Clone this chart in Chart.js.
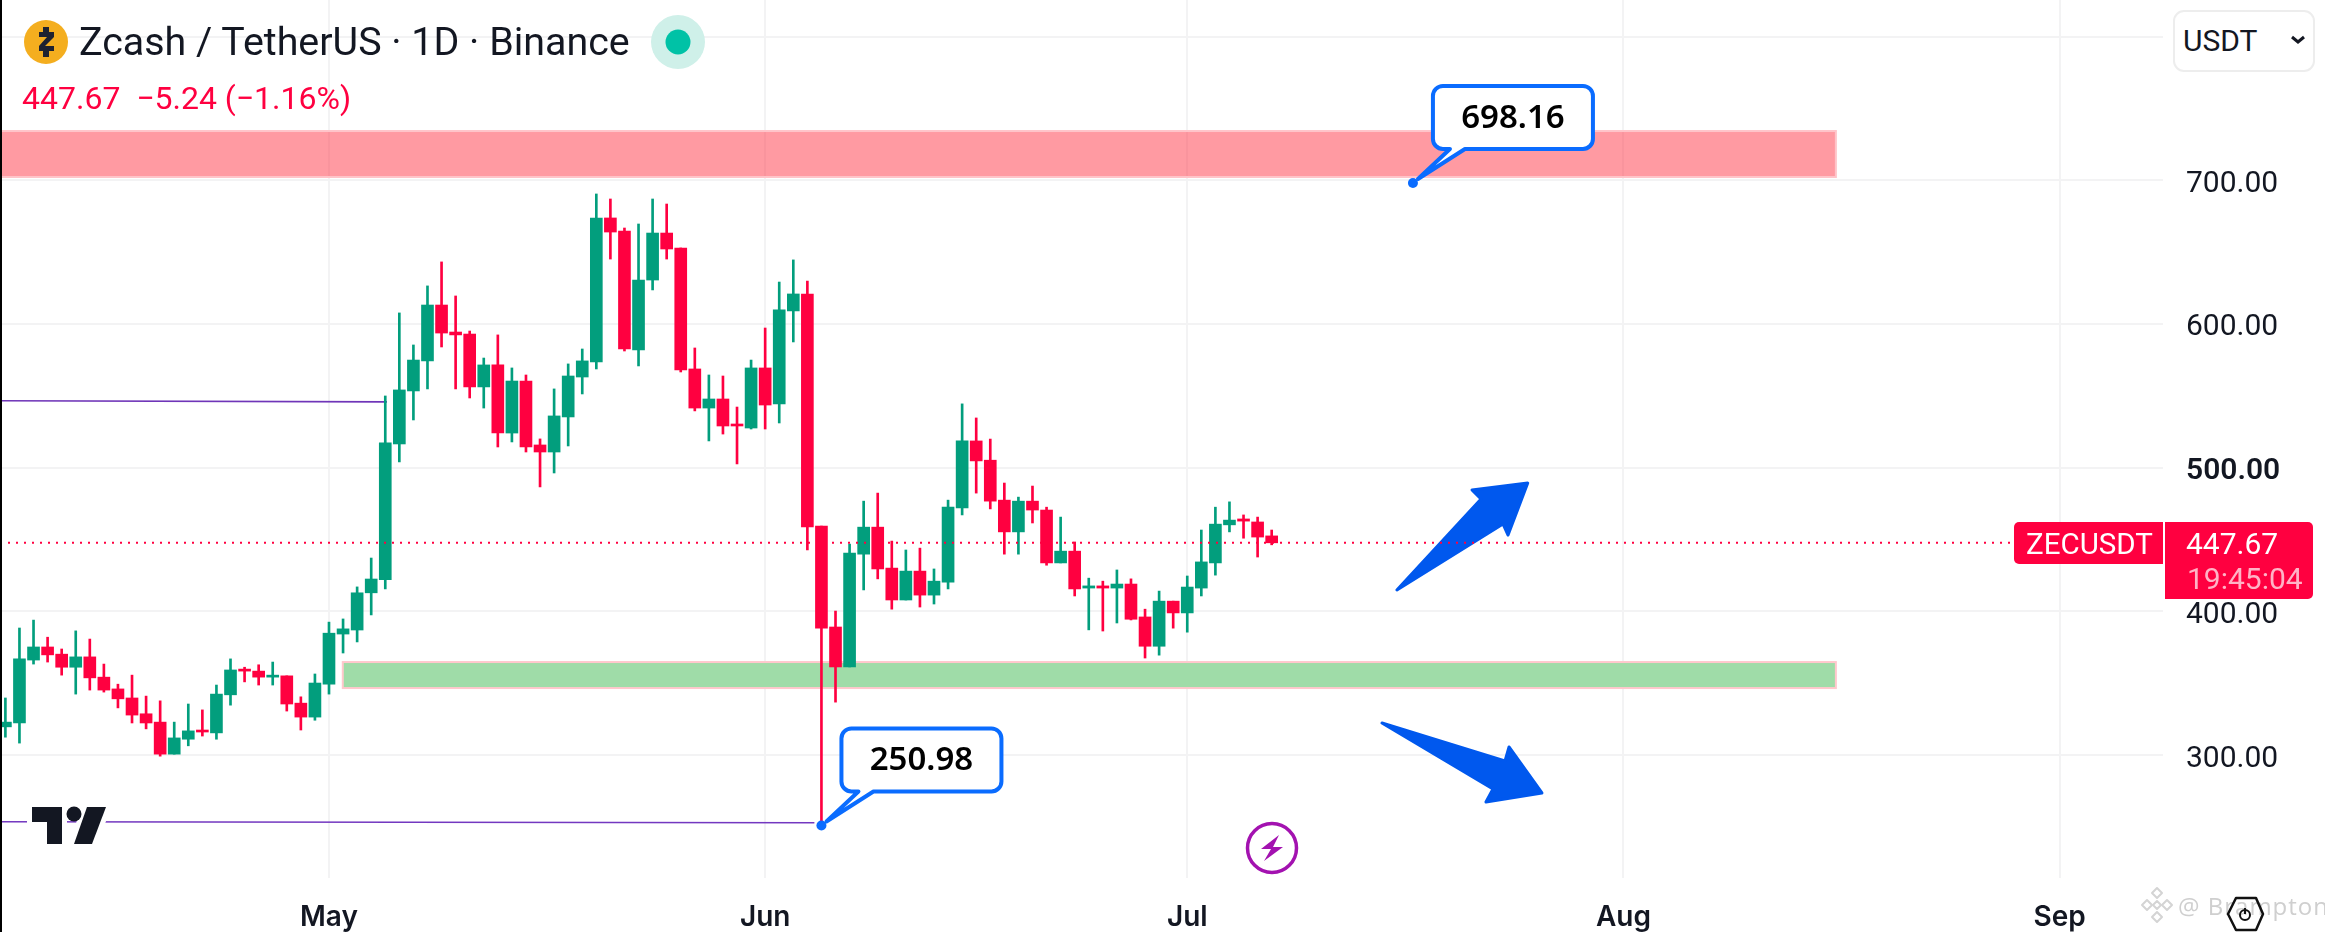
<!DOCTYPE html>
<html>
<head>
<meta charset="utf-8">
<title>ZECUSDT</title>
<script src="https://cdn.jsdelivr.net/npm/chart.js@4"></script>
<style>
  html, body { margin: 0; padding: 0; background: #fff; overflow: hidden; }
  #wrap { position: relative; width: 2325px; height: 932px; font-family: Roboto, sans-serif; color: #131722; }
  #chart { position: absolute; left: 0; top: 0; }
  .lbl { position: absolute; white-space: pre; }
  #title { left: 79px; top: 19px; font-size: 39.4px; line-height: 46px; }
  #change { left: 22px; top: 79px; font-size: 32px; line-height: 38px; color: #ff0040; }
  #unit { left: 2173px; top: 10px; width: 142px; height: 62px; box-sizing: border-box; border: 2px solid #ededed; border-radius: 11px; background: #fff; }
  #unitText { left: 2183px; top: 23px; font-size: 30px; line-height: 36px; }
  #unitArrow { left: 2290px; top: 35px; }
  #symTag { left: 2014px; top: 522px; width: 149px; height: 42px; background: #ff0040; border-radius: 5px 0 0 5px; }
  #symText { left: 2026px; top: 523px; font-size: 29.5px; line-height: 42px; color: #fff; }
  #priceTag { left: 2165px; top: 522px; width: 148px; height: 77px; background: #ff0040; border-radius: 0 5px 5px 0; }
  #priceText { left: 2186px; top: 526px; font-size: 30px; line-height: 36px; color: #fff; }
  #timeText { left: 2187px; top: 561px; font-size: 30px; line-height: 36px; color: #ffb3c6; }
</style>
</head>
<body>
<div id="wrap">
  <canvas id="chart" width="2325" height="932"></canvas>
  <div class="lbl" id="title">Zcash / TetherUS · 1D · Binance</div>
  <div class="lbl" id="change">447.67  −5.24 (−1.16%)</div>
  <div class="lbl" id="unit"></div>
  <div class="lbl" id="unitText">USDT</div>
  <svg class="lbl" id="unitArrow" width="16" height="10"><path d="M2 2 L8 7 L14 2" fill="none" stroke="#131722" stroke-width="3"/></svg>
  <div class="lbl" id="symTag"></div>
  <div class="lbl" id="symText">ZECUSDT</div>
  <div class="lbl" id="priceTag"></div>
  <div class="lbl" id="priceText">447.67</div>
  <div class="lbl" id="timeText">19:45:04</div>
</div>
<script>
// candles, one per day, first one is 23 days before May 1
const firstDay = -23;
const opens = [319.6,322.3,366.1,375.2,370.2,361.1,368.3,354.2,346.0,339.7,328.7,322.9,300.6,311.0,317.4,315.4,341.9,359.8,358.4,354.2,355.1,336.1,326.4,
  349.3,384.2,387.0,412.9,422.0,516.5,553.4,574.3,613.2,594.4,593.0,556.2,571.5,524.1,560.3,515.8,510.9,535.3,563.1,573.6,673.8,664.7,581.9,630.6,663.3,652.9,568.7,541.5,547.8,530.4,527.6,569.4,544.3,609.1,620.9,
  459.4,389.1,361.3,439.8,458.6,430.1,407.9,428.0,411.3,420.3,472.0,518.6,505.2,477.4,455.3,476.7,470.5,433.7,441.9,416.2,417.7,416.2,419.0,396.1,375.7,407.1,
  398.9,416.2,433.7,460.2,464.3,462.2,452.5];
const closes = [322.9,366.9,375.2,369.7,361.1,368.3,353.7,345.2,339.1,327.8,322.3,300.6,311.9,316.8,316.0,342.4,359.2,358.4,354.2,355.6,335.5,326.4,350.1,
  384.8,387.8,412.9,422.5,517.2,554.1,574.9,613.2,593.7,592.4,556.2,571.5,524.1,560.3,514.4,510.9,536.0,563.8,574.3,673.8,664.0,582.6,630.6,663.3,652.2,568.0,541.5,547.8,529.0,529.0,569.4,543.6,609.8,620.9,458.7,
  388.3,361.3,440.6,458.6,429.5,407.9,428.0,411.3,421.0,472.5,518.6,504.7,476.7,455.3,476.7,470.5,433.7,441.9,415.6,417.7,416.2,419.0,394.5,375.7,407.1,398.9,
  416.9,434.4,460.7,463.5,462.8,451.7,447.7];
const highs = [339.7,388.4,393.9,382.0,373.8,386.4,380.7,363.3,349.3,355.6,341.0,337.7,322.9,335.5,331.4,348.7,366.9,361.1,362.8,364.7,355.1,340.5,356.4,
  392.5,394.7,417.0,437.1,549.9,607.7,585.4,626.5,643.2,619.5,595.1,576.3,592.4,569.4,564.5,520.0,554.8,572.2,582.6,690.5,687.0,666.8,669.6,687.0,683.5,652.9,583.3,564.5,563.8,542.2,574.9,597.2,629.2,644.6,629.9,
  459.4,400.2,446.8,476.7,482.3,448.9,442.7,444.0,429.5,477.4,544.4,534.6,519.9,489.3,479.5,487.2,472.5,465.6,448.3,423.1,421.0,428.8,422.6,401.5,414.1,407.1,
  424.6,456.6,472.5,476.2,467.1,465.6,456.6];
const lows = [312.4,308.3,363.3,364.7,355.6,342.4,345.2,343.8,332.8,322.3,318.2,299.2,300.6,306.4,313.2,311.0,334.7,350.9,348.7,348.7,330.6,317.4,324.2,
  342.4,371.0,378.7,397.5,415.6,504.0,533.2,554.8,584.0,554.8,548.5,541.5,514.4,517.9,510.9,486.6,496.3,515.1,551.3,568.7,645.2,581.2,570.8,623.7,645.2,566.6,539.5,518.6,523.4,502.6,526.9,526.9,531.1,587.5,442.7,
  251.0,336.8,361.3,414.9,422.6,401.5,407.9,403.0,405.1,415.6,467.1,482.3,471.3,439.8,439.8,461.5,432.1,433.7,410.7,387.1,386.3,391.9,394.0,367.5,369.5,388.3,
  385.5,410.7,425.2,455.3,450.9,437.8,446.3];

// axes
const monthNames = ['May', 'Jun', 'Jul', 'Aug', 'Sep'];
const monthDays = [0, 31, 61, 92, 123];
const priceTicks = [300, 400, 500, 600, 700, 800];
const boldPrice = 500;
const dayRange = [-23.383, 130.35];
const priceRange = [214.4, 825.5];

// drawn on top of the candles
const lastPrice = 447.67;
const resistanceZone = [702.3, 734.3];
const supportZone = [346.6, 364.7];
const zoneEnd = 107.1;
const supportStart = 0.98;
const upperTrendDays = [-23.383, 4.12];
const upperTrend = [546.6, 545.8];
const lowerTrendDays = [-23.383, 34.5];
const lowerTrend = [253.6, 252.9];
const calloutDays = [77.04, 35];
const calloutPrices = [698.16, 250.98];
const arrowUpDays = [75.9, 83.44, 83.8, 85.2, 81.24, 81.88];
const arrowUpPrices = [414.9, 460.8, 453.1, 489.3, 484.5, 478.2];
const arrowDownDays = [74.84, 83.58, 83.87, 86.21, 82.23, 82.73];
const arrowDownPrices = [322.3, 295.8, 305.6, 273.6, 267.3, 276.3];

const UP = '#029e7d';
const DOWN = '#ff0040';
const BLUE = '#0a6cff';
const ARROW = '#0058ee';
const GRID = '#f3f3f4';

const candleDays = opens.map((_, i) => firstDay + i);
const candleColors = opens.map((o, i) => (closes[i] >= o ? UP : DOWN));

function polygon(ctx, pts) {
  ctx.beginPath();
  pts.forEach((p, i) => (i ? ctx.lineTo(p[0], p[1]) : ctx.moveTo(p[0], p[1])));
  ctx.closePath();
}

function drawZone(ctx, x0, x1, y0, y1, fill, edge) {
  ctx.fillStyle = fill;
  ctx.fillRect(x0, y0, x1 - x0, y1 - y0);
  ctx.strokeStyle = edge;
  ctx.lineWidth = 2;
  ctx.strokeRect(x0, y0, x1 - x0, y1 - y0);
}

function drawArrow(ctx, xs, ys, days, prices) {
  polygon(ctx, days.map((d, i) => [xs.getPixelForValue(d), ys.getPixelForValue(prices[i])]));
  ctx.fillStyle = ARROW;
  ctx.strokeStyle = ARROW;
  ctx.lineWidth = 3;
  ctx.lineJoin = 'round';
  ctx.fill();
  ctx.stroke();
}

function drawCallout(ctx, px, py, text) {
  const l = px + 20, r = l + 160, b = py - 34, t = b - 63, rad = 10;
  ctx.beginPath();
  ctx.moveTo(l + rad, t);
  ctx.arcTo(r, t, r, b, rad);
  ctx.arcTo(r, b, l, b, rad);
  ctx.lineTo(px + 52, b);
  ctx.lineTo(px + 5, py - 4);
  ctx.lineTo(px + 37, b);
  ctx.arcTo(l, b, l, t, rad);
  ctx.arcTo(l, t, r, t, rad);
  ctx.closePath();
  ctx.fillStyle = '#fff';
  ctx.strokeStyle = BLUE;
  ctx.lineWidth = 4;
  ctx.lineJoin = 'round';
  ctx.fill();
  ctx.stroke();
  ctx.fillStyle = BLUE;
  ctx.beginPath();
  ctx.arc(px, py, 5, 0, Math.PI * 2);
  ctx.fill();
  ctx.fillStyle = '#000';
  ctx.font = '600 33px "Noto Sans"';
  ctx.textAlign = 'center';
  ctx.textBaseline = 'middle';
  ctx.fillText(text, (l + r) / 2, (t + b) / 2 + 1);
}

function drawTvLogo(ctx) {
  const stem = [[32, 807], [62, 807], [62, 844], [47, 844], [47, 822], [32, 822]];
  const slash = [[87, 807], [106, 807], [92, 844], [74, 844]];
  ctx.lineJoin = 'miter';
  ctx.strokeStyle = '#fff';
  ctx.lineWidth = 10;
  [stem, slash].forEach(p => { polygon(ctx, p); ctx.stroke(); });
  ctx.fillStyle = '#131722';
  [stem, slash].forEach(p => { polygon(ctx, p); ctx.fill(); });
  ctx.beginPath();
  ctx.arc(74, 814, 7.5, 0, Math.PI * 2);
  ctx.fill();
}

function drawBolt(ctx) {
  ctx.strokeStyle = '#a312b0';
  ctx.fillStyle = '#a312b0';
  ctx.lineWidth = 3.5;
  ctx.beginPath();
  ctx.arc(1272, 848, 24.5, 0, Math.PI * 2);
  ctx.stroke();
  polygon(ctx, [[1279, 835], [1261, 849], [1271, 849], [1264, 861], [1283, 847], [1273, 847]]);
  ctx.fill();
}

function drawCoinIcon(ctx) {
  ctx.fillStyle = '#f4ae1f';
  ctx.beginPath();
  ctx.arc(46, 42, 22, 0, Math.PI * 2);
  ctx.fill();
  ctx.fillStyle = '#1e2230';
  polygon(ctx, [[43, 27], [49, 27], [49, 32], [54, 32], [54, 37], [45, 46], [54, 46], [54, 51], [49, 51], [49, 57], [43, 57], [43, 51], [39, 51], [39, 46], [47, 37], [39, 37], [39, 32], [43, 32]]);
  ctx.fill();
}

function drawStatus(ctx) {
  ctx.fillStyle = '#cff0e9';
  ctx.beginPath();
  ctx.arc(678, 42, 27, 0, Math.PI * 2);
  ctx.fill();
  ctx.fillStyle = '#00c2a6';
  ctx.beginPath();
  ctx.arc(678, 42, 12.5, 0, Math.PI * 2);
  ctx.fill();
}

function drawWatermark(ctx) {
  // binance mark
  ctx.strokeStyle = '#d4d4d4';
  ctx.lineWidth = 2;
  [[2157, 893, 5], [2147, 905, 5], [2167, 905, 5], [2157, 917, 5], [2157, 905, 4]].forEach(d => {
    polygon(ctx, [[d[0], d[1] - d[2]], [d[0] + d[2], d[1]], [d[0], d[1] + d[2]], [d[0] - d[2], d[1]]]);
    ctx.stroke();
  });
  ctx.fillStyle = '#cfcfcf';
  ctx.font = '24px "Open Sans"';
  ctx.textAlign = 'left';
  ctx.textBaseline = 'middle';
  ctx.letterSpacing = '1px';
  ctx.fillText('@ Brampton', 2178, 908);
  ctx.letterSpacing = '0px';
  // settings hexagon
  ctx.strokeStyle = '#111';
  ctx.lineWidth = 2.5;
  polygon(ctx, [[2236, 898], [2256, 898], [2263, 914], [2256, 930], [2236, 930], [2228, 914]]);
  ctx.stroke();
  ctx.lineWidth = 2;
  ctx.beginPath();
  ctx.arc(2245, 915, 5, 0, Math.PI * 2);
  ctx.stroke();
  ctx.beginPath();
  ctx.moveTo(2245, 908);
  ctx.lineTo(2245, 914);
  ctx.stroke();
}

const overlays = {
  id: 'overlays',
  beforeDatasetsDraw(chart) {
    const { ctx, scales: { x, y } } = chart;
    const left = x.getPixelForValue(dayRange[0]);
    const right = x.getPixelForValue(zoneEnd);
    ctx.save();
    drawZone(ctx, left, right, y.getPixelForValue(resistanceZone[1]), y.getPixelForValue(resistanceZone[0]), 'rgba(255,53,70,0.5)', '#ffc4c9');
    drawZone(ctx, x.getPixelForValue(supportStart), right, y.getPixelForValue(supportZone[1]), y.getPixelForValue(supportZone[0]), '#9fdca8', '#ffc8cc');
    drawArrow(ctx, x, y, arrowUpDays, arrowUpPrices);
    drawArrow(ctx, x, y, arrowDownDays, arrowDownPrices);
    ctx.restore();
  },
  afterDatasetsDraw(chart) {
    const { ctx, scales: { x, y } } = chart;
    ctx.save();
    drawTvLogo(ctx);
    drawBolt(ctx);
    calloutPrices.forEach((p, i) => {
      drawCallout(ctx, x.getPixelForValue(calloutDays[i]), y.getPixelForValue(p), p.toFixed(2));
    });
    drawCoinIcon(ctx);
    drawStatus(ctx);
    drawWatermark(ctx);
    // screenshot edge
    ctx.fillStyle = '#000';
    ctx.fillRect(0, 0, 2, 932);
    ctx.restore();
  }
};

// no label padding, the plot has to run from edge to edge
function zeroPadding(s) {
  s.paddingTop = 0;
  s.paddingBottom = 0;
  s.paddingLeft = 0;
  s.paddingRight = 0;
}

new Chart(document.getElementById('chart'), {
  type: 'bar',
  plugins: [overlays],
  data: {
    datasets: [
      {
        type: 'line',
        order: 0,
        data: dayRange.map(d => ({ x: d, y: lastPrice })),
        borderColor: DOWN,
        borderWidth: 2,
        borderDash: [2, 6],
        pointRadius: 0
      },
      {
        order: 1,
        barThickness: 12,
        grouped: false,
        data: candleDays.map((d, i) => ({ x: d, y: [opens[i], closes[i]] })),
        backgroundColor: candleColors
      },
      {
        order: 2,
        barThickness: 2,
        grouped: false,
        data: candleDays.map((d, i) => ({ x: d, y: [lows[i], highs[i]] })),
        backgroundColor: candleColors
      },
      {
        type: 'line',
        order: 3,
        data: upperTrendDays.map((d, i) => ({ x: d, y: upperTrend[i] })),
        borderColor: '#6f35b8',
        borderWidth: 1.6,
        pointRadius: 0
      },
      {
        type: 'line',
        order: 3,
        data: lowerTrendDays.map((d, i) => ({ x: d, y: lowerTrend[i] })),
        borderColor: '#7338c0',
        borderWidth: 1.6,
        pointRadius: 0
      }
    ]
  },
  options: {
    responsive: false,
    animation: false,
    devicePixelRatio: 1,
    layout: { padding: 0 },
    plugins: { legend: { display: false }, tooltip: { enabled: false } },
    scales: {
      x: {
        type: 'linear',
        offset: false,
        min: dayRange[0],
        max: dayRange[1],
        afterBuildTicks: s => { s.ticks = monthDays.map(value => ({ value })); },
        afterFit: s => { s.height = 54; zeroPadding(s); },
        grid: { offset: false, color: GRID, lineWidth: 2, drawTicks: false },
        border: { display: false },
        ticks: {
          autoSkip: false,
          maxRotation: 0,
          minRotation: 0,
          padding: 23,
          color: '#131722',
          font: { family: 'Inter', size: 28, weight: '600' },
          callback: v => monthNames[monthDays.indexOf(v)]
        }
      },
      y: {
        position: 'right',
        min: priceRange[0],
        max: priceRange[1],
        afterBuildTicks: s => { s.ticks = priceTicks.map(value => ({ value })); },
        afterFit: s => { s.width = 162; zeroPadding(s); },
        grid: { color: GRID, lineWidth: 2, drawTicks: false },
        border: { display: false },
        ticks: {
          crossAlign: 'near',
          padding: 23,
          labelOffset: 4,
          color: '#131722',
          font: ctx => ({ family: 'Roboto', size: 30, weight: ctx.tick && ctx.tick.value === boldPrice ? '600' : '400' }),
          callback: v => (v === 800 ? '' : v.toFixed(2))
        }
      }
    }
  }
});
</script>
</body>
</html>
